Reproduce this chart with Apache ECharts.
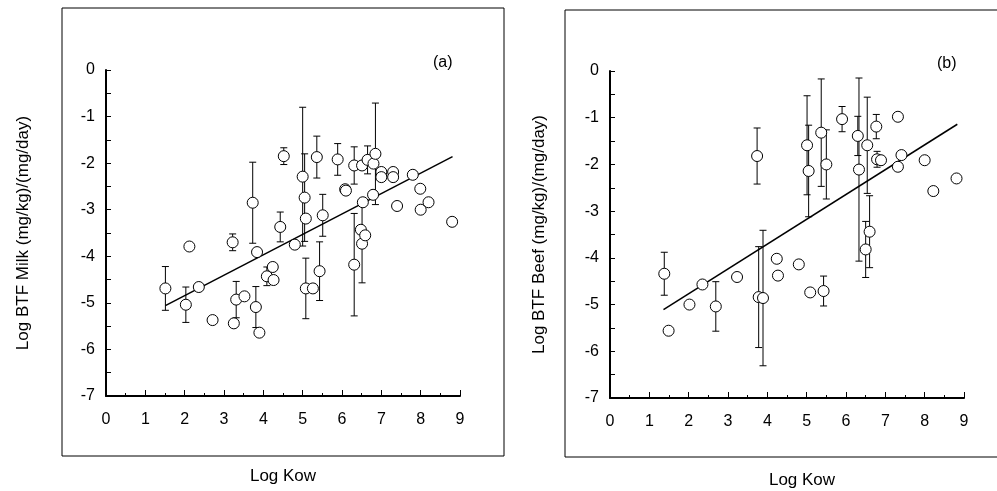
<!DOCTYPE html>
<html>
<head>
<meta charset="utf-8">
<script src="https://cdn.jsdelivr.net/npm/echarts@6/dist/echarts.min.js"></script>
<style>
html,body{margin:0;padding:0;background:#fff;}
#chart{width:997px;height:491px;}
</style>
</head>
<body>
<div id="chart"></div>
<script>
// Panel (a): Log BTF Milk vs Log Kow  [x, y, error (0 = none)]
var milkX =   [1.51, 2.03, 2.12, 2.36, 2.71, 3.22, 3.25, 3.31, 3.52, 3.73, 3.81, 3.84, 3.90, 4.09, 4.24, 4.26, 4.43, 4.52, 4.80, 5.00, 5.05, 5.08, 5.08, 5.26, 5.36, 5.43, 5.51, 5.89, 6.08, 6.10, 6.31, 6.31, 6.51, 6.53, 6.48, 6.51, 6.59, 6.65, 6.79, 6.80, 6.85, 7.00, 7.00, 7.30, 7.30, 7.40, 7.80, 7.99, 8.00, 8.20, 8.80];
var milkY =   [-4.69, -5.04, -3.79, -4.66, -5.37, -3.70, -5.44, -4.93, -4.86, -2.85, -5.09, -3.91, -5.64, -4.43, -4.23, -4.51, -3.37, -1.85, -3.75, -2.29, -2.74, -3.19, -4.69, -4.69, -1.87, -4.32, -3.12, -1.92, -2.56, -2.59, -2.05, -4.18, -2.05, -2.84, -3.43, -3.73, -3.55, -1.93, -2.68, -2.01, -1.80, -2.19, -2.30, -2.19, -2.30, -2.92, -2.25, -2.55, -3.00, -2.84, -3.26];
var milkErr = [0.47, 0.38, 0, 0, 0, 0.18, 0, 0.39, 0, 0.87, 0.44, 0, 0, 0.20, 0, 0, 0.32, 0.18, 0, 1.49, 0.94, 0, 0.65, 0, 0.45, 0.63, 0.45, 0.34, 0, 0, 0.40, 1.10, 0, 0, 0, 0.84, 0, 0.30, 0, 0, 1.09, 0, 0, 0, 0, 0, 0, 0, 0, 0, 0];
var milkFitX = [1.51, 8.81];
var milkFitY = [-5.06, -1.86];

// Panel (b): Log BTF Beef vs Log Kow
var beefX =   [1.38, 1.49, 2.02, 2.35, 2.69, 3.23, 3.74, 3.78, 3.89, 4.24, 4.27, 4.80, 5.01, 5.05, 5.09, 5.37, 5.43, 5.50, 5.90, 6.30, 6.33, 6.50, 6.54, 6.60, 6.77, 6.79, 6.89, 7.32, 7.32, 7.41, 8.00, 8.22, 8.81];
var beefY =   [-4.34, -5.56, -5.00, -4.57, -5.04, -4.41, -1.82, -4.84, -4.86, -4.02, -4.38, -4.14, -1.59, -2.14, -4.74, -1.32, -4.71, -2.00, -1.03, -1.39, -2.11, -3.82, -1.59, -3.44, -1.19, -1.89, -1.91, -0.98, -2.05, -1.80, -1.91, -2.57, -2.30];
var beefErr = [0.46, 0, 0, 0, 0.53, 0, 0.60, 1.08, 1.45, 0, 0, 0, 1.06, 0.98, 0, 1.15, 0.32, 0.74, 0.27, 0.42, 1.96, 0.60, 1.03, 0.77, 0.26, 0.17, 0, 0, 0, 0, 0, 0, 0];
var beefFitX = [1.36, 8.83];
var beefFitY = [-5.11, -1.14];

var xTicks = [0, 1, 2, 3, 4, 5, 6, 7, 8, 9];
var yTicks = [0, -1, -2, -3, -4, -5, -6, -7];

function zip2(a, b) { return a.map(function (v, i) { return [v, b[i]]; }); }
function zip3(a, b, c) { return a.map(function (v, i) { return [v, b[i], c[i]]; }); }

var FONT = 'Liberation Sans, Arial, sans-serif';

function errRender(params, api) {
  var e = api.value(2);
  if (!e) return null;
  var x = api.value(0), y = api.value(1);
  var top = api.coord([x, y + e]);
  var bot = api.coord([x, y - e]);
  var hw = 3.5;
  var st = { stroke: '#000', lineWidth: 1 };
  return {
    type: 'group',
    children: [
      { type: 'line', shape: { x1: top[0], y1: top[1], x2: bot[0], y2: bot[1] }, style: st },
      { type: 'line', shape: { x1: top[0] - hw, y1: top[1], x2: top[0] + hw, y2: top[1] }, style: st },
      { type: 'line', shape: { x1: bot[0] - hw, y1: bot[1], x2: bot[0] + hw, y2: bot[1] }, style: st }
    ]
  };
}

function makeX(idx, gap) {
  return {
    gridIndex: idx, type: 'value', min: xTicks[0], max: xTicks[xTicks.length - 1], interval: 1,
    name: 'Log Kow', nameLocation: 'middle', nameGap: gap,
    nameTextStyle: { color: '#000', fontSize: 17, fontFamily: FONT, padding: idx === 1 ? [0, 0, 0, 30] : 0 },
    axisLine: { show: true, onZero: false, lineStyle: { color: '#000', width: 2 } },
    axisTick: { show: true, inside: true, length: 6, lineStyle: { color: '#000', width: 1 } },
    minorTick: { show: true, splitNumber: 2, length: 3, lineStyle: { color: '#000', width: 1 } },
    axisLabel: { color: '#000', fontSize: 16, fontFamily: FONT, margin: 16 },
    splitLine: { show: false }
  };
}
function makeY(idx, name, gap) {
  return {
    gridIndex: idx, type: 'value', min: yTicks[yTicks.length - 1], max: yTicks[0], interval: 1,
    name: name, nameLocation: 'middle', nameGap: gap, nameRotate: 90,
    nameTextStyle: { color: '#000', fontSize: 17, fontFamily: FONT },
    axisLine: { show: true, onZero: false, lineStyle: { color: '#000', width: 2 } },
    axisTick: { show: true, inside: true, length: 5, lineStyle: { color: '#000', width: 1 } },
    minorTick: { show: true, splitNumber: 2, length: 5, lineStyle: { color: '#000', width: 1 } },
    axisLabel: { color: '#000', fontSize: 16, fontFamily: FONT, margin: 11 },
    splitLine: { show: false }
  };
}

function fitSeries(idx, xs, ys) {
  return {
    type: 'line', xAxisIndex: idx, yAxisIndex: idx, data: zip2(xs, ys),
    showSymbol: false, symbol: 'none', silent: true, z: 1,
    lineStyle: { color: '#000', width: 1.5 }
  };
}
function errSeries(idx, xs, ys, es) {
  return {
    type: 'custom', xAxisIndex: idx, yAxisIndex: idx, data: zip3(xs, ys, es),
    renderItem: errRender, z: 2, silent: true
  };
}
function ptSeries(idx, xs, ys) {
  return {
    type: 'scatter', xAxisIndex: idx, yAxisIndex: idx, data: zip2(xs, ys),
    symbol: 'circle', symbolSize: 11, z: 3,
    itemStyle: { color: '#fff', borderColor: '#000', borderWidth: 1, opacity: 1 }
  };
}

var chart = echarts.init(document.getElementById('chart'), null, { renderer: 'canvas' });
chart.setOption({
  backgroundColor: '#fff',
  animation: false,
  textStyle: { fontFamily: FONT },
  grid: [
    { left: 106, top: 70, width: 354, height: 326, containLabel: false, outerBoundsMode: 'none' },
    { left: 610, top: 71, width: 354, height: 327, containLabel: false, outerBoundsMode: 'none' }
  ],
  xAxis: [makeX(0, 72), makeX(1, 74)],
  yAxis: [makeY(0, 'Log BTF Milk (mg/kg)/(mg/day)', 74), makeY(1, 'Log BTF Beef (mg/kg)/(mg/day)', 62)],
  graphic: [
    { type: 'rect', shape: { x: 62, y: 8, width: 442, height: 448 }, style: { fill: 'none', stroke: '#000', lineWidth: 1 }, silent: true },
    { type: 'rect', shape: { x: 565, y: 10, width: 440, height: 447 }, style: { fill: 'none', stroke: '#000', lineWidth: 1 }, silent: true },
    { type: 'text', left: 433, top: 55, style: { text: '(a)', fontSize: 16, fontFamily: FONT, fill: '#000' } },
    { type: 'text', left: 937, top: 56, style: { text: '(b)', fontSize: 16, fontFamily: FONT, fill: '#000' } }
  ],
  series: [
    fitSeries(0, milkFitX, milkFitY),
    errSeries(0, milkX, milkY, milkErr),
    ptSeries(0, milkX, milkY),
    fitSeries(1, beefFitX, beefFitY),
    errSeries(1, beefX, beefY, beefErr),
    ptSeries(1, beefX, beefY)
  ]
});
</script>
</body>
</html>
